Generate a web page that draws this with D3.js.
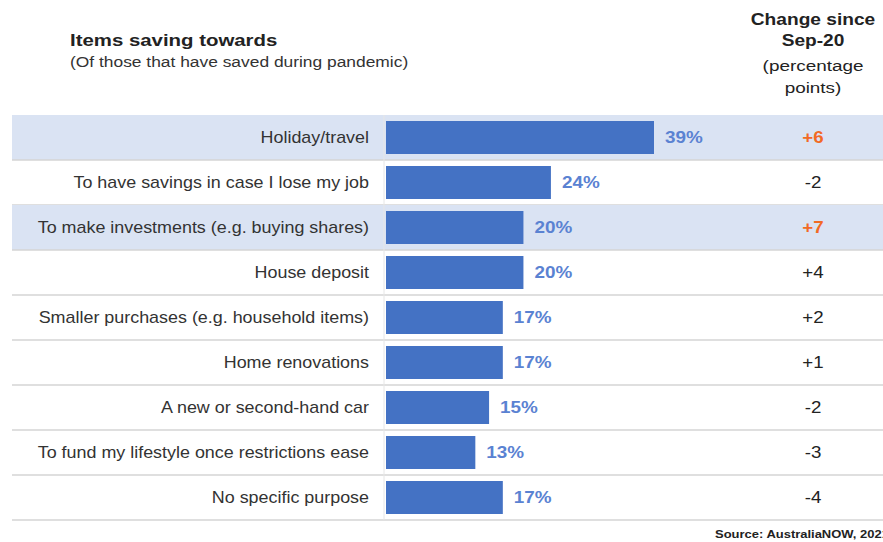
<!DOCTYPE html>
<html>
<head>
<meta charset="utf-8">
<script src="https://cdn.jsdelivr.net/npm/d3@7"></script>
<style>
  html, body { margin: 0; padding: 0; background: #fff; }
  svg { display: block; font-family: "Liberation Sans", Arial, sans-serif; }
</style>
</head>
<body>
<svg id="chart" width="883" height="542"></svg>
<script>
// Survey data: share of savers by purpose, and change since Sep-20 (pp)
const categories = [
  "Holiday/travel",
  "To have savings in case I lose my job",
  "To make investments (e.g. buying shares)",
  "House deposit",
  "Smaller purchases (e.g. household items)",
  "Home renovations",
  "A new or second-hand car",
  "To fund my lifestyle once restrictions ease",
  "No specific purpose"
];
const shares = [39, 24, 20, 20, 17, 17, 15, 13, 17];
const changes = ["+6", "-2", "+7", "+4", "+2", "+1", "-2", "-3", "-4"];
const highlighted = [true, false, true, false, false, false, false, false, false];

const svg = d3.select("#chart");

const rowLeft = 12, rowRight = 883;
const barX0 = 386;
const changeX = 813;
const stretch = 1.2;   // wide letterforms

const y = d3.scaleBand()
  .domain(categories)
  .range([115, 520]);

const x = d3.scaleLinear()
  .domain([0, 39])
  .range([barX0, 654]);

const barH = 33;

// Text placed at an anchor point, widened horizontally
function label(parent, px, py, sx) {
  return parent.append("text")
    .attr("transform", `translate(${px},${py}) scale(${sx},1)`);
}

// Titles
label(svg, 70, 46, 1.2)
  .attr("font-size", 17).attr("font-weight", "bold").attr("fill", "#222")
  .text("Items saving towards");
label(svg, 70, 67, 1.2)
  .attr("font-size", 14.5).attr("fill", "#333")
  .text("(Of those that have saved during pandemic)");

// Right-hand column header
const header = [
  { t: "Change since", bold: true, y: 25 },
  { t: "Sep-20", bold: true, y: 46 },
  { t: "(percentage", bold: false, y: 71 },
  { t: "points)", bold: false, y: 93 }
];
header.forEach(h => {
  label(svg, changeX, h.y, h.bold ? 1.16 : 1.22)
    .attr("text-anchor", "middle")
    .attr("font-size", h.bold ? 16.5 : 15.5)
    .attr("font-weight", h.bold ? "bold" : "normal")
    .attr("fill", "#222")
    .text(h.t);
});

const rowData = categories.map((c, i) => ({ c, v: shares[i], ch: changes[i], hl: highlighted[i] }));

const rows = svg.selectAll("g.row")
  .data(rowData)
  .join("g")
  .attr("class", "row")
  .attr("transform", d => `translate(0,${y(d.c)})`);

// Shaded bands for highlighted rows
rows.filter(d => d.hl).append("rect")
  .attr("x", rowLeft).attr("y", 0)
  .attr("width", rowRight - rowLeft).attr("height", y.bandwidth())
  .attr("fill", "#DAE3F3");

// Row separators (below each row)
rows.append("line")
  .attr("x1", rowLeft).attr("x2", rowRight)
  .attr("y1", y.bandwidth()).attr("y2", y.bandwidth())
  .attr("stroke", "#d4d4d4").attr("stroke-width", 1.5);

// Faint baseline
svg.append("line")
  .attr("x1", barX0 - 2).attr("x2", barX0 - 2)
  .attr("y1", 115).attr("y2", 520)
  .attr("stroke", "#e6e6e6").attr("stroke-width", 1);

// Bars
rows.append("rect")
  .attr("x", x(0))
  .attr("y", (y.bandwidth() - barH) / 2)
  .attr("width", d => x(d.v) - x(0))
  .attr("height", barH)
  .attr("fill", "#4472C4");

const mid = y.bandwidth() / 2;

rows.each(function (d) {
  const g = d3.select(this);
  // Category label
  label(g, 369, mid, 1.12)
    .attr("dy", "0.35em")
    .attr("text-anchor", "end")
    .attr("font-size", 16).attr("fill", "#333")
    .text(d.c);
  // Value label
  label(g, x(d.v) + 11, mid, 1.18)
    .attr("dy", "0.35em")
    .attr("font-size", 16).attr("font-weight", "bold").attr("fill", "#5A82D2")
    .text(d.v + "%");
  // Change since Sep-20
  label(g, changeX, mid, 1.1)
    .attr("dy", "0.35em")
    .attr("text-anchor", "middle")
    .attr("font-size", 17)
    .attr("font-weight", d.hl ? "bold" : "normal")
    .attr("fill", d.hl ? "#F26A24" : "#222")
    .text(d.ch);
});

// Source note
label(svg, 715, 538, 1.18)
  .attr("font-size", 11).attr("font-weight", "bold").attr("fill", "#222")
  .text("Source: AustraliaNOW, 2021");
</script>
</body>
</html>
